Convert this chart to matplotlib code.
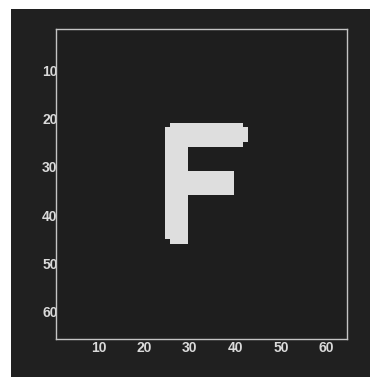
import numpy as np
import matplotlib
matplotlib.use("Agg")
import matplotlib.pyplot as plt
from matplotlib.patches import Rectangle

# 64x64 picture of the letter F (0-based rows/cols, stop exclusive)
n_rows, n_cols = 64, 64
background_level = 0.12
letter_level = 0.87

# (row_start, row_stop, col_start, col_stop)
stem = (21, 44, 24, 29)
stem_top = (20, 21, 25, 29)
stem_foot = (44, 45, 25, 29)
top_bar = (20, 25, 25, 41)
top_notch = (21, 24, 41, 42)
mid_bar = (30, 35, 24, 39)
strokes = [stem, stem_top, stem_foot, top_bar, top_notch, mid_bar]

x_ticks = [10, 20, 30, 40, 50, 60]
y_ticks = [10, 20, 30, 40, 50, 60]

img = np.full((n_rows, n_cols), background_level)
for r0, r1, c0, c1 in strokes:
    img[r0:r1, c0:c1] = letter_level

W, H = 370, 377
fig = plt.figure(figsize=(W / 100, H / 100), dpi=100, facecolor="white")
fig.patches.append(Rectangle((11 / W, 0), 1, (H - 9) / H, transform=fig.transFigure,
                             facecolor="#202020", edgecolor="none", zorder=-1))

ax = fig.add_axes([55.5 / W, 1 - 338.5 / H, (347 - 55.5) / W, (338.5 - 29) / H])
ax.set_facecolor("#1f1f1f")
ax.imshow(img, cmap="gray", vmin=0, vmax=1, interpolation="nearest",
          extent=(0.5, 64.5, 65, 1), aspect="auto")
ax.set_xlim(0.5, 64.5)
ax.set_ylim(65.5, 1.5)

ax.set_xticks(x_ticks)
ax.set_yticks(y_ticks)
for s in ax.spines.values():
    s.set_color("#c4c4c4")
    s.set_linewidth(1.0)
    s.set_zorder(5)
ax.tick_params(direction="in", length=0, labelcolor="#dadada",
               labelsize=10, pad=2)
ax.tick_params(axis="y", pad=-1.5)
for lab in ax.get_xticklabels() + ax.get_yticklabels():
    lab.set_family("Liberation Sans")
    lab.set_fontweight("bold")

fig.savefig("out.png", dpi=100, facecolor=fig.get_facecolor())
